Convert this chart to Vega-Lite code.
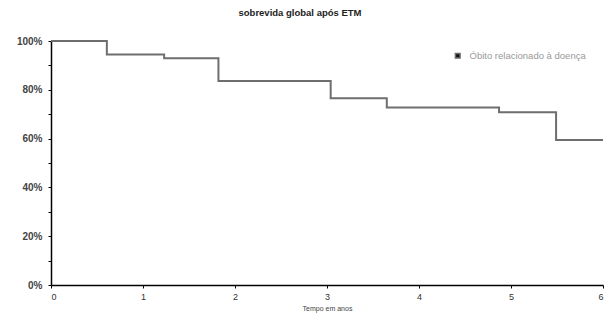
{
  "$schema": "https://vega.github.io/schema/vega-lite/v6.json",
  "autosize": {"type": "none"},
  "padding": {"left": 51, "top": 41, "right": 2, "bottom": 35},
  "width": 552,
  "height": 244,
  "background": "white",
  "title": {"text": "sobrevida global após ETM", "fontSize": 9.5, "fontWeight": "bold", "font": "Arial", "color": "#222", "anchor": "middle", "offset": 19, "dx": -27},
  "config": {"view": {"stroke": null}, "font": "Arial"},
  "data": {"values": [
    {"t": 0, "s": 1.0, "g": "Óbito relacionado à doença"},
    {"t": 0.607, "s": 0.945, "g": "Óbito relacionado à doença"},
    {"t": 1.23, "s": 0.929, "g": "Óbito relacionado à doença"},
    {"t": 1.82, "s": 0.836, "g": "Óbito relacionado à doença"},
    {"t": 3.04, "s": 0.765, "g": "Óbito relacionado à doença"},
    {"t": 3.65, "s": 0.727, "g": "Óbito relacionado à doença"},
    {"t": 4.87, "s": 0.708, "g": "Óbito relacionado à doença"},
    {"t": 5.49, "s": 0.594, "g": "Óbito relacionado à doença"},
    {"t": 6.0, "s": 0.594, "g": "Óbito relacionado à doença"}
  ]},
  "mark": {"type": "line", "interpolate": "step-after", "strokeWidth": 2, "clip": false},
  "encoding": {
    "x": {"field": "t", "type": "quantitative", "scale": {"domain": [0, 6], "nice": false},
      "axis": {"values": [0,1,2,3,4,5,6], "format": "d", "grid": false, "domainColor": "#000", "domainWidth": 1.5, "tickColor": "#000", "tickSize": 3, "labelFontSize": 9, "labelColor": "#333", "labelPadding": 4, "title": "Tempo em anos", "titleFontSize": 7, "titleFontWeight": "normal", "titleColor": "#444", "titlePadding": 3}},
    "y": {"field": "s", "type": "quantitative", "scale": {"domain": [0, 1], "nice": false},
      "axis": {"values": [0,0.1,0.2,0.3,0.4,0.5,0.6,0.7,0.8,0.9,1.0], "labelExpr": "round(datum.value*10) % 2 == 0 ? format(datum.value, '.0%') : ''", "grid": false, "domainColor": "#000", "domainWidth": 1.5, "tickColor": "#000", "tickSize": 3, "labelFontSize": 10, "labelFontWeight": "bold", "labelColor": "#444", "labelPadding": 6, "title": null}},
    "color": {"field": "g", "type": "nominal", "scale": {"range": ["#6e6e6e"]},
      "legend": {"title": null, "orient": "none", "legendX": 402, "legendY": 10, "symbolType": "square", "symbolFillColor": "#111", "symbolStrokeColor": "#111", "symbolSize": 22, "labelFontSize": 9.5, "labelColor": "#999", "labelOffset": 7, "labelLimit": 200}}
  }
}
